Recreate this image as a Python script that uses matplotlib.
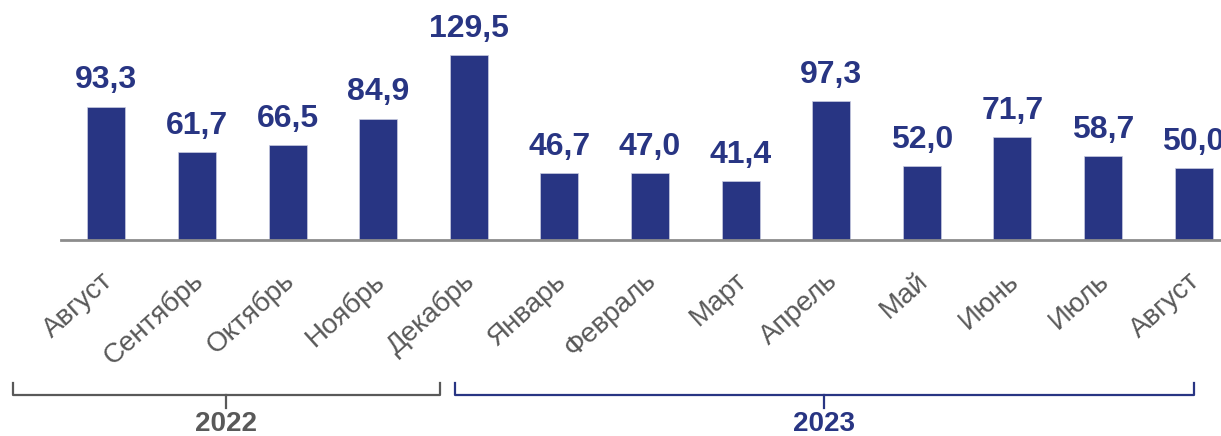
import matplotlib
matplotlib.use("Agg")
import matplotlib.pyplot as plt
from matplotlib.lines import Line2D
from matplotlib.transforms import ScaledTranslation

months = ["Август", "Сентябрь", "Октябрь", "Ноябрь", "Декабрь", "Январь", "Февраль",
          "Март", "Апрель", "Май", "Июнь", "Июль", "Август"]
values = [93.3, 61.7, 66.5, 84.9, 129.5, 46.7, 47.0, 41.4, 97.3, 52.0, 71.7, 58.7, 50.0]
years = ["2022", "2023"]
year_counts = [5, 8]

NAVY = "#283583"
GRAY = "#595959"
plt.rcParams['font.family'] = ['Liberation Sans', 'DejaVu Sans']

W, H = 1221, 436
fig = plt.figure(figsize=(W / 100, H / 100), dpi=100)
base_px = 240
ax = fig.add_axes([61 / W, (H - base_px) / H, (1239 - 61) / W, base_px / H])
x = list(range(len(values)))
ax.bar(x, values, width=0.42, color=NAVY, edgecolor="#c9cce0", linewidth=0.5, zorder=2)
ax.set_xlim(-0.5, len(values) - 0.5)
ax.set_ylim(0, 167.8)
for s in ["top", "right", "left"]:
    ax.spines[s].set_visible(False)
ax.spines["bottom"].set_color("#8c8c8c")
ax.spines["bottom"].set_linewidth(2)
ax.set_yticks([])
ax.set_xticks(x)
ax.set_xticklabels(months, rotation=42, ha="right", va="top", rotation_mode="anchor",
                   fontsize=20, color=GRAY)
ax.tick_params(axis="x", length=0, pad=20)
shift = ScaledTranslation(-6 / 100, 0, fig.dpi_scale_trans)
for lbl in ax.get_xticklabels():
    lbl.set_transform(lbl.get_transform() + shift)
for xi, v in zip(x, values):
    ax.annotate(f"{v:.1f}".replace(".", ","), (xi, v), xytext=(0, 8), textcoords="offset points",
                ha="center", va="bottom", fontsize=23, fontweight="bold", color=NAVY,
                annotation_clip=False)

# year brackets (data x, figure-pixel y)
bracket_pad_left = [1.03, 1.15]
bracket_pad_right = [-0.32, 0.0]
colors = [GRAY, NAVY]
start = 0
for yr, cnt, pl, pr, c in zip(years, year_counts, bracket_pad_left, bracket_pad_right, colors):
    x0 = start - pl
    x1 = start + cnt - 1 + pr
    xm = (x0 + x1) / 2
    def fx(d):
        return ax.transData.transform((d, 0))[0] / W
    def fy(p):
        return (H - p) / H
    fig.add_artist(Line2D([fx(x0), fx(x0), fx(x1), fx(x1)], [fy(383), fy(395), fy(395), fy(383)],
                          color=c, lw=1.6, solid_joinstyle="round"))
    fig.add_artist(Line2D([fx(xm), fx(xm)], [fy(395), fy(408)], color=c, lw=1.6))
    fig.text(fx(xm), fy(424), yr, ha="center", va="center", fontsize=20, fontweight="bold", color=c)
    start += cnt

fig.savefig("out.png", dpi=100)
